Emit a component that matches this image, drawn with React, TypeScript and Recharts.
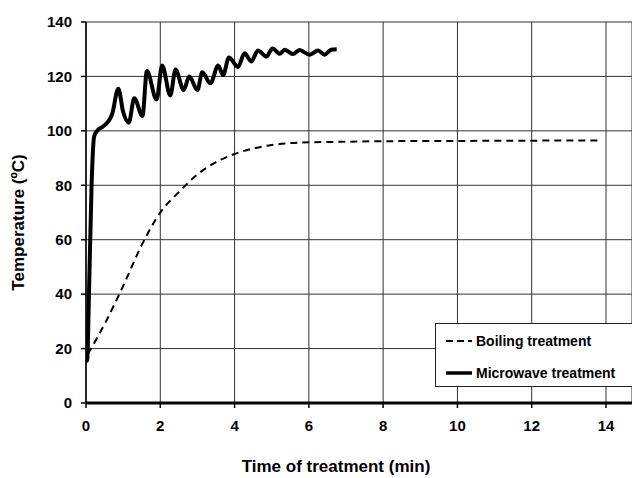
import { LineChart, Line, XAxis, YAxis, CartesianGrid, Legend } from 'recharts';

const xTicks = [0, 2, 4, 6, 8, 10, 12, 14];
const yTicks = [0, 20, 40, 60, 80, 100, 120, 140];

// Microwave treatment (min / °C)
const microwaveTime = [
  0, 0.03, 0.08, 0.15, 0.22, 0.3, 0.45, 0.6, 0.7, 0.87, 1.0, 1.15, 1.3, 1.52, 1.64, 1.9, 2.05, 2.27,
  2.41, 2.63, 2.78, 3.0, 3.13, 3.35, 3.56, 3.69, 3.85, 4.09, 4.27, 4.45, 4.63, 4.86, 5.02, 5.22, 5.35,
  5.57, 5.75, 6.02, 6.25, 6.42, 6.6, 6.75,
];
const microwaveTemp = [
  18, 15.5, 40, 80, 98, 100, 101.5, 103.5, 106, 115.5, 107, 103, 112, 105.5, 122, 111.5, 124, 113,
  122.5, 115, 120, 115, 121.5, 117.5, 124, 120.5, 127, 123.5, 128.5, 125.5, 129.5, 127.3, 130.3, 128.3,
  129.8, 128.2, 129.7, 128, 129.5, 128, 129.8, 130,
];

// Boiling treatment
const boilingTime = [0.05, 0.5, 1, 1.5, 2, 2.5, 3, 3.5, 4, 4.5, 5, 5.5, 6, 7, 8, 10, 12, 13.9];
const boilingTemp = [18, 29, 43, 58, 70, 77.5, 84, 88.5, 91.5, 93.5, 94.8, 95.5, 95.8, 96, 96.2, 96.3, 96.4, 96.5];

const microwave = microwaveTime.map((t, i) => ({ t, v: microwaveTemp[i] }));
const boiling = boilingTime.map((t, i) => ({ t, v: boilingTemp[i] }));

const font = 'Arial, "Liberation Sans", sans-serif';

const LegendBox = () => (
  <div
    style={{
      border: '1px solid #222',
      background: '#fff',
      width: 210,
      height: 64,
      boxSizing: 'border-box',
      fontFamily: font,
      fontWeight: 'bold',
      fontSize: 14,
      padding: '7px 0 0 10px',
      textAlign: 'left',
    }}
  >
    <div style={{ display: 'flex', alignItems: 'center', height: 20 }}>
      <svg width={28} height={6}>
        <line x1={0} y1={3} x2={26} y2={3} stroke="#000" strokeWidth={2} strokeDasharray="7 4" />
      </svg>
      <span style={{ marginLeft: 2 }}>Boiling treatment</span>
    </div>
    <div style={{ display: 'flex', alignItems: 'center', height: 20, marginTop: 12 }}>
      <svg width={28} height={6}>
        <line x1={0} y1={3} x2={26} y2={3} stroke="#000" strokeWidth={3.5} />
      </svg>
      <span style={{ marginLeft: 2 }}>Microwave treatment</span>
    </div>
  </div>
);

export default function App() {
  return (
    <div style={{ position: 'absolute', left: 0, top: 0, width: 632, height: 478, background: '#fff' }}>
      <LineChart width={632} height={478} margin={{ top: 22, right: 0, left: 0, bottom: 0 }}>
        <CartesianGrid stroke="#333" strokeWidth={1} />
        <XAxis
          type="number"
          dataKey="t"
          domain={[0, 14.7]}
          ticks={xTicks}
          allowDataOverflow
          height={75}
          axisLine={{ stroke: '#000', strokeWidth: 3 }}
          tickLine={{ stroke: '#000', strokeWidth: 1.5 }}
          tickSize={5}
          tick={{ fill: '#000', fontSize: 15, fontWeight: 'bold', fontFamily: font, dy: 10 }}
          label={{
            value: 'Time of treatment (min)',
            position: 'insideBottom',
            offset: 6,
            dx: -23,
            fill: '#000',
            fontSize: 17,
            fontWeight: 'bold',
            fontFamily: font,
          }}
        />
        <YAxis
          type="number"
          domain={[0, 140]}
          ticks={yTicks}
          width={86}
          axisLine={{ stroke: '#000', strokeWidth: 1.5 }}
          tickLine={{ stroke: '#000', strokeWidth: 1.5 }}
          tickSize={5}
          tick={{ fill: '#000', fontSize: 15, fontWeight: 'bold', fontFamily: font, dx: -7 }}
          label={{
            value: 'Temperature (ºC)',
            angle: -90,
            position: 'insideLeft',
            offset: 18,
            dy: 10,
            fill: '#000',
            fontSize: 17,
            fontWeight: 'bold',
            fontFamily: font,
            style: { textAnchor: 'middle' },
          }}
        />
        <Legend
          layout="horizontal"
          verticalAlign="middle"
          align="center"
          content={<LegendBox />}
          wrapperStyle={{ position: 'absolute', left: 435, top: 323, width: 'auto', height: 'auto' }}
        />
        <Line
          data={boiling}
          dataKey="v"
          name="Boiling treatment"
          type="monotone"
          stroke="#000"
          strokeWidth={2}
          strokeDasharray="7 5"
          dot={false}
          isAnimationActive={false}
        />
        <Line
          data={microwave}
          dataKey="v"
          name="Microwave treatment"
          type="monotone"
          stroke="#000"
          strokeWidth={4}
          dot={false}
          isAnimationActive={false}
        />
      </LineChart>
    </div>
  );
}
